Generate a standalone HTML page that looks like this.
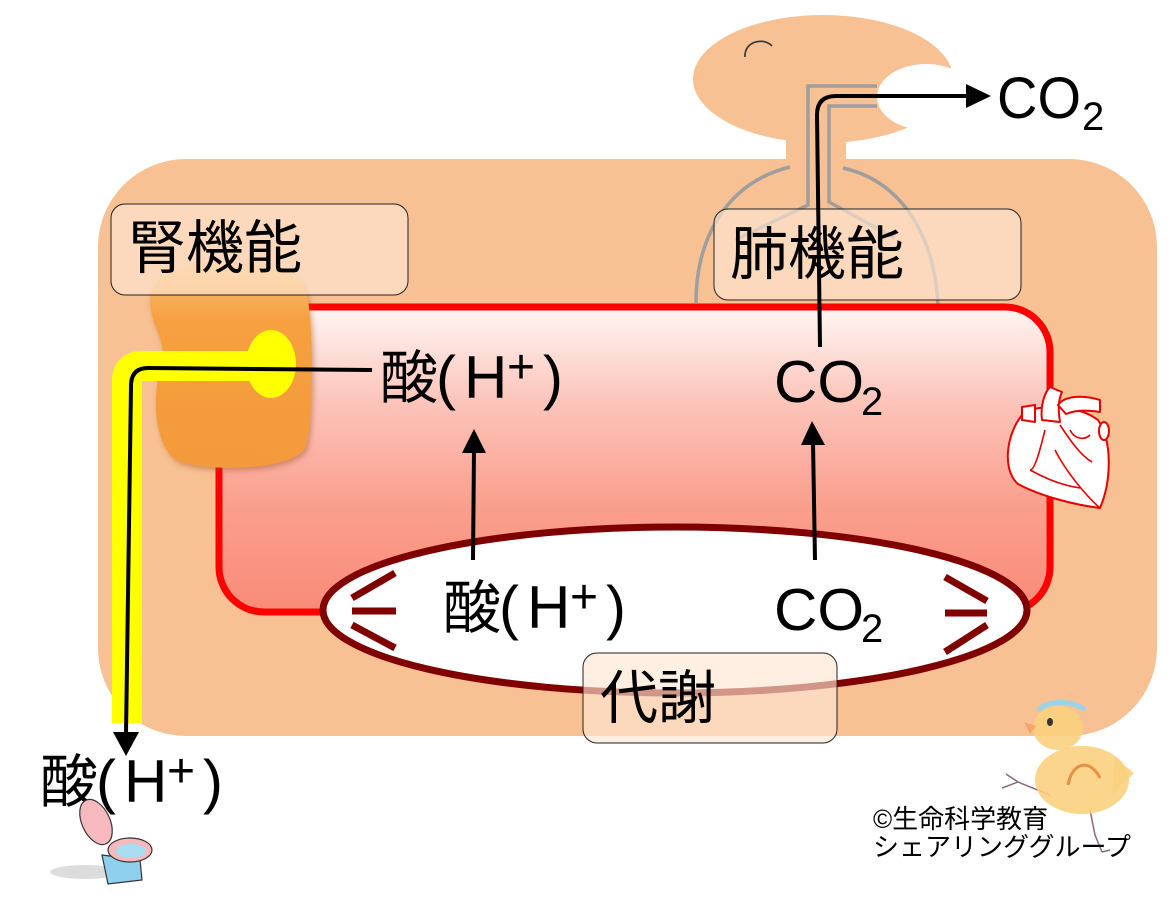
<!DOCTYPE html>
<html><head><meta charset="utf-8"><style>
html,body{margin:0;padding:0;background:#fff;}
svg{display:block;}
.j{font-family:"Liberation Sans","Noto Sans CJK JP",sans-serif;fill:#000;}
</style></head><body>
<svg width="1175" height="900" viewBox="0 0 1175 900" xmlns="http://www.w3.org/2000/svg">
<defs>
<linearGradient id="blood" x1="0" y1="307" x2="0" y2="612" gradientUnits="userSpaceOnUse">
<stop offset="0" stop-color="#FFF6F4"/>
<stop offset="0.3" stop-color="#FCC6BC"/>
<stop offset="0.65" stop-color="#FA9F8D"/>
<stop offset="1" stop-color="#F98B78"/>
</linearGradient>
<linearGradient id="kid" x1="0" y1="270" x2="0" y2="470" gradientUnits="userSpaceOnUse">
<stop offset="0" stop-color="#F8BC72"/>
<stop offset="0.25" stop-color="#F6A040"/>
<stop offset="1" stop-color="#F39A3A"/>
</linearGradient>
<filter id="sh" x="-20%" y="-20%" width="140%" height="140%">
<feDropShadow dx="2" dy="3" stdDeviation="3" flood-color="#a05020" flood-opacity="0.45"/>
</filter>
</defs>
<rect width="1175" height="900" fill="#fff"/>

<!-- head -->
<ellipse cx="823" cy="79" rx="130" ry="64" fill="#F8C193"/>
<rect x="786" y="125" width="60" height="45" fill="#F8C193"/>
<ellipse cx="926" cy="97" rx="49" ry="33" fill="#fff"/>
<path d="M745,57 C744,41 764,37 772,46" fill="none" stroke="#333" stroke-width="1.6"/>

<!-- body -->
<rect x="98" y="159" width="1059" height="577" rx="88" ry="88" fill="#F8C193"/>

<!-- trachea / lungs -->
<g fill="none" stroke="#9E9E9E" stroke-width="3.5">
<path d="M877,86 L808,86 L808,205 L735,240"/>
<path d="M877,106 L829,106 L829,202 L895,238"/>
<path d="M790,167 C725,183 696,240 696,303"/>
<path d="M843,168 C905,182 935,240 938,306"/>
</g>

<!-- blood -->
<rect x="219" y="307" width="831" height="305" rx="45" ry="45" fill="url(#blood)" stroke="#FF0000" stroke-width="7"/>

<!-- metabolism ellipse -->
<ellipse cx="675" cy="610" rx="352" ry="83" fill="#fff" stroke="#800000" stroke-width="7"/>
<g stroke="#800000" stroke-width="7" fill="none">
<path d="M395,573 L352,598"/>
<path d="M352,611 L396,611"/>
<path d="M352,625 L395,648"/>
<path d="M945,577 L987,601"/>
<path d="M945,613 L987,613"/>
<path d="M987,625 L945,652"/>
</g>

<!-- kidney -->
<path d="M150,300 C150,270 190,262 240,264 C285,266 306,275 308,300 C314,340 313,420 306,446 C296,472 200,472 176,460 C156,446 150,400 162,362 C167,340 150,325 150,300 Z" fill="url(#kid)" filter="url(#sh)"/>
<ellipse cx="271" cy="364" rx="25" ry="34" fill="#FFFF00"/>
<path d="M265,366 L142,366 Q127,366 127,381 L127,723" fill="none" stroke="#FFFF00" stroke-width="30"/>

<!-- boxes -->
<rect x="111" y="204" width="297" height="91" rx="14" ry="14" fill="#FDE6D2" fill-opacity="0.65" stroke="#222" stroke-width="1"/>
<rect x="714" y="209" width="307" height="91" rx="14" ry="14" fill="#FDE6D2" fill-opacity="0.65" stroke="#222" stroke-width="1"/>
<rect x="583" y="653" width="254" height="90" rx="14" ry="14" fill="#FDE6D2" fill-opacity="0.65" stroke="#222" stroke-width="1"/>

<!-- black arrows -->
<g fill="none" stroke="#000" stroke-width="4">
<path d="M820,347 L817,115 Q817,96 836,96 L967,96"/>
<path d="M372,370 L148,368 Q131,368 131,386 L126,734"/>
<path d="M473,560 L474,450"/>
<path d="M815,560 L813,442"/>
</g>
<g fill="#000">
<polygon points="966,84 991,96 966,108"/>
<polygon points="113,732 139,732 126,756"/>
<polygon points="462,453 486,453 474,429"/>
<polygon points="801,445 825,445 812,421"/>
</g>

<!-- labels -->
<text class="j" x="128" y="268" font-size="58">腎機能</text>
<text class="j" x="730" y="274" font-size="58">肺機能</text>
<text class="j" x="600" y="718" font-size="58">代謝</text>

<!-- acid labels -->
<g class="j">
<text x="380" y="398" font-size="58">酸</text>
<text x="436" y="398" font-size="60">(</text>
<text x="464" y="398" font-size="60">H</text>
<text x="507" y="383" font-size="48">+</text>
<text x="543" y="398" font-size="60">)</text>

<text x="443" y="628" font-size="58">酸</text>
<text x="499" y="628" font-size="60">(</text>
<text x="527" y="628" font-size="60">H</text>
<text x="570" y="613" font-size="48">+</text>
<text x="606" y="628" font-size="60">)</text>

<text x="40" y="802" font-size="58">酸</text>
<text x="96" y="802" font-size="60">(</text>
<text x="124" y="802" font-size="60">H</text>
<text x="167" y="787" font-size="48">+</text>
<text x="203" y="802" font-size="60">)</text>
</g>

<!-- CO2 labels -->
<g class="j">
<text x="774" y="402" font-size="59" textLength="90" lengthAdjust="spacingAndGlyphs">CO</text>
<text x="861" y="415" font-size="40">2</text>
<text x="774" y="630" font-size="59" textLength="90" lengthAdjust="spacingAndGlyphs">CO</text>
<text x="861" y="642" font-size="40">2</text>
<text x="997" y="118" font-size="58" textLength="84" lengthAdjust="spacingAndGlyphs">CO</text>
<text x="1082" y="130" font-size="40">2</text>
</g>

<!-- heart -->
<g fill="#fff" stroke="#E80000" stroke-width="2" stroke-linejoin="round">
<path d="M1025,412 C1008,428 1000,468 1018,484 C1040,496 1075,505 1100,508 C1112,480 1112,440 1098,420 C1082,408 1050,402 1025,412 Z"/>
<path d="M1022,407 L1022,420 L1035,422 L1035,405 Z"/>
<path d="M1042,420 C1040,405 1045,392 1050,387 L1062,392 C1058,400 1058,410 1060,422 Z"/>
<path d="M1058,405 C1065,395 1085,395 1100,400 L1100,412 C1088,410 1075,410 1066,414 Z"/>
<ellipse cx="1104" cy="431" rx="5" ry="9"/>
</g>
<g fill="none" stroke="#E80000" stroke-width="1.6">
<path d="M1045,430 C1040,450 1035,470 1030,470"/>
<path d="M1060,425 C1070,440 1080,455 1092,462"/>
<path d="M1055,450 C1065,470 1085,495 1100,508"/>
<path d="M1030,470 C1045,478 1060,485 1080,488"/>
<path d="M1070,430 C1075,440 1085,440 1090,435"/>
</g>

<!-- chick -->
<g>
<g fill="none" stroke="#8A6A80" stroke-width="1.5">
<path d="M1050,795 L1018,782 L1002,788"/>
<path d="M1018,782 L1006,774"/>
<path d="M1090,810 L1095,835 L1102,852"/>
<path d="M1102,852 L1110,850"/>
</g>
<ellipse cx="1082" cy="780" rx="47" ry="34" fill="#FAD07E" fill-opacity="0.9"/>
<path d="M1115,758 L1134,773 L1112,795 Z" fill="#FAD07E" fill-opacity="0.9"/>
<ellipse cx="1058" cy="728" rx="25" ry="22" fill="#FAD07E" fill-opacity="0.9"/>
<path d="M1038,710 C1050,700 1072,700 1085,710" fill="none" stroke="#9BD4E8" stroke-width="5"/>
<ellipse cx="1050" cy="722" rx="3" ry="4" fill="#333"/>
<path d="M1036,726 L1024,722 L1030,734 Z" fill="#F6A46A"/>
<path d="M1068,785 C1072,762 1090,758 1100,778" fill="none" stroke="#E8904A" stroke-width="3"/>
</g>

<!-- toilet -->
<ellipse cx="85" cy="872" rx="35" ry="7" fill="#ddd"/>
<ellipse cx="96" cy="822" rx="14" ry="24" transform="rotate(-25 96 822)" fill="#F6B9BE" stroke="#333" stroke-width="1.2"/>
<path d="M102,855 L140,860 L142,880 L108,884 Z" fill="#8FD0EE" stroke="#333" stroke-width="1.2"/>
<ellipse cx="130" cy="850" rx="22" ry="12" fill="#F6B9BE" stroke="#333" stroke-width="1.2"/>
<ellipse cx="131" cy="851" rx="15" ry="7" fill="#A8DDF3"/>

<!-- copyright -->
<text class="j" x="873" y="828" font-size="26">©生命科学教育</text>
<text class="j" x="873" y="856" font-size="26">シェアリンググループ</text>
</svg>
</body></html>
